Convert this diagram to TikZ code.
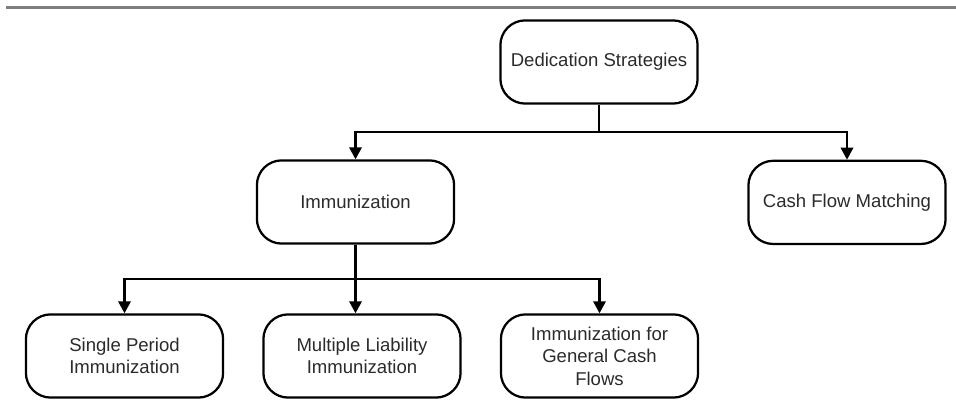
\documentclass[tikz,border=0pt]{standalone}
\usepackage{fontspec}
\setmainfont{Liberation Sans}
\usepackage{tikz}
\usetikzlibrary{arrows.meta, positioning}
\definecolor{cink}{HTML}{2B2B2B}
\definecolor{crule}{HTML}{7F7F7F}

\begin{document}
\begin{tikzpicture}[
  stratbox/.style={
    rectangle, rounded corners=0.62cm, draw=black, fill=white,
    line width=1.6pt, minimum width=4.93cm, minimum height=2.08cm,
    inner sep=2pt, align=center, text=cink,
    font=\fontsize{13.2}{16}\selectfont
  },
  treearrow/.style={
    -{Triangle[length=3mm, width=3.1mm]}, draw=black, line width=1.6pt
  },
  treeline/.style={
    draw=black, line width=1.6pt
  }
]

\useasboundingbox (0,0) rectangle (23.9,10.2);

% ============================================================
% Top rule
% ============================================================
\draw[crule, line width=2.2pt] (0.15,10.0125) -- (23.9,10.0125);

% ============================================================
% Boxes
% ============================================================
\node[stratbox] (ded) at (14.975, 8.65) {Dedication Strategies};

\node[stratbox] (imm) at (8.8875, 5.15) {Immunization};
\node[stratbox] (cfm) at (21.175, 5.14) {Cash Flow Matching};

\node[stratbox] (single)  at (3.1125, 1.3) {Single Period\\Immunization};
\node[stratbox] (mult)    at (9.05, 1.3)   {Multiple Liability\\Immunization};
\node[stratbox] (general) at (14.9875, 1.3) {Immunization for\\General Cash\\Flows};

% ============================================================
% Connectors
% ============================================================
\coordinate (split1) at (ded.south |- 0,6.9);
\coordinate (split2) at (imm.south |- 0,3.225);

\draw[treeline] (ded.south) -- (split1);
\draw[treearrow] (split1) -| (imm.north);
\draw[treearrow] (split1) -| (cfm.north);

\draw[treearrow] (imm.south) -- (imm.south |- mult.north);
\draw[treearrow] (split2) -| (single.north);
\draw[treearrow] (split2) -| (general.north);

\end{tikzpicture}
\end{document}
